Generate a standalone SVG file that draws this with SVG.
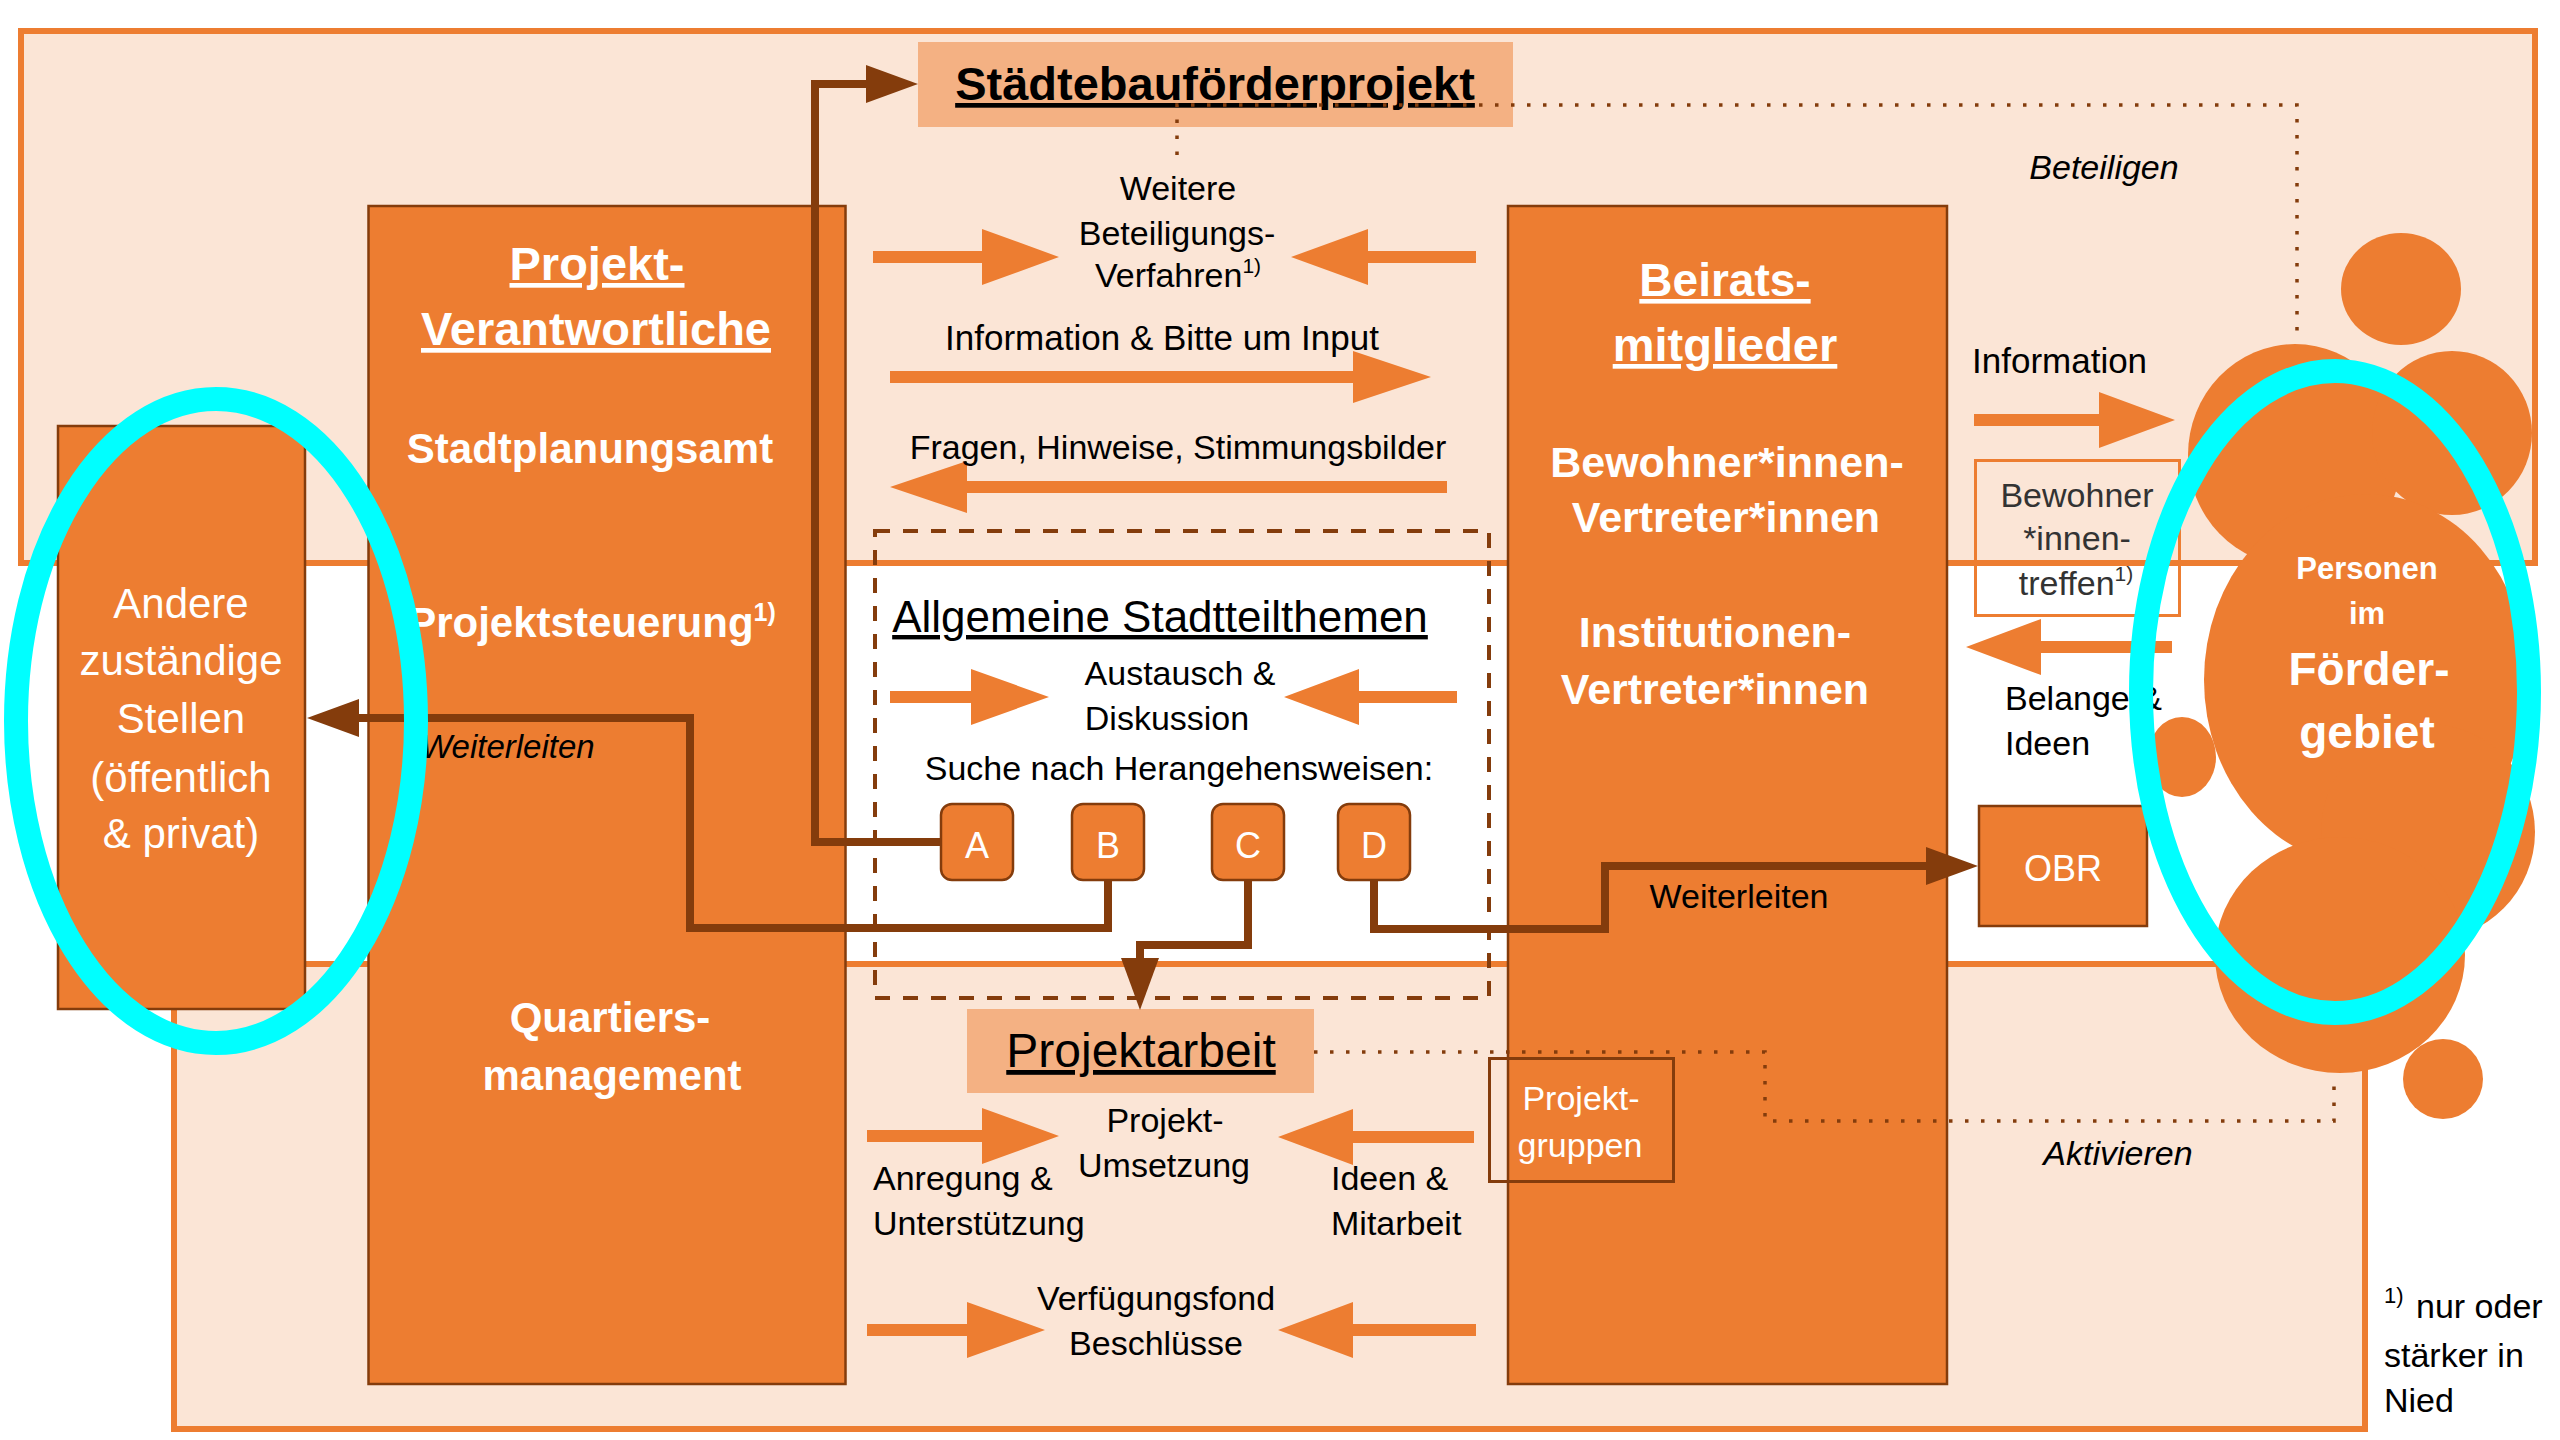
<svg xmlns="http://www.w3.org/2000/svg" width="2560" height="1440" viewBox="0 0 2560 1440">
<defs>
<style>
.frame{fill:#FBE5D6;stroke:#ED7D31;stroke-width:6}
.ob{fill:#ED7D31;stroke:#843C0C;stroke-width:2.5}
.lb{fill:#F4B183}
.arr{fill:#ED7D31}
.con{fill:none;stroke:#843C0C;stroke-width:8;stroke-linejoin:miter}
.dot{fill:none;stroke:#843C0C;stroke-width:3.5;stroke-dasharray:3.5 12.5}
.dash{fill:none;stroke:#843C0C;stroke-width:4;stroke-dasharray:15 13}
.cy{fill:none;stroke:#00FFFF;stroke-width:24}
.p{fill:#ED7D31}
text{font-family:"Liberation Sans",Arial,sans-serif}
.w{fill:#FFFFFF}
.k{fill:#000000}
.g{fill:#333333}
.b{font-weight:bold}
.i{font-style:italic}
.m{text-anchor:middle}
.u{text-decoration:underline}
.s34{font-size:34px}
</style>
<marker id="ah" markerUnits="userSpaceOnUse" markerWidth="52" markerHeight="38" refX="0" refY="19" orient="auto">
<path d="M0,0 L52,19 L0,38 Z" fill="#843C0C"/>
</marker>
</defs>
<rect width="2560" height="1440" fill="#FFFFFF"/>

<g id="frame-top"><rect class="frame" x="21" y="31" width="2514" height="532"/></g>
<g id="frame-bottom"><rect class="frame" x="174" y="964" width="2191" height="465"/></g>

<g id="dashed-area"><rect class="dash" x="875" y="531" width="614" height="467"/></g>

<g id="andere">
<rect class="ob" x="58" y="426" width="247" height="583"/>
<text class="w m" font-size="42" x="181" y="618">Andere</text>
<text class="w m" font-size="42" x="181" y="675">zuständige</text>
<text class="w m" font-size="42" x="181" y="733">Stellen</text>
<text class="w m" font-size="42" x="181" y="792">(öffentlich</text>
<text class="w m" font-size="42" x="181" y="848">&amp; privat)</text>
</g>

<g id="projektverantwortliche">
<rect class="ob" x="368.5" y="206" width="477" height="1178"/>
<text class="w b m u" font-size="47" x="597" y="280">Projekt-</text>
<text class="w b m u" font-size="47" x="596" y="345">Verantwortliche</text>
<text class="w b m" font-size="42" x="590" y="463">Stadtplanungsamt</text>
<text class="w b m" font-size="42" x="592" y="637">Projektsteuerung<tspan font-size="25" dy="-16">1)</tspan></text>
<text class="w b m" font-size="42" x="610" y="1032">Quartiers-</text>
<text class="w b m" font-size="42" x="612" y="1090">management</text>
</g>

<g id="beirat">
<rect class="ob" x="1508" y="206" width="439" height="1178"/>
<text class="w b m u" font-size="46" x="1725" y="296">Beirats-</text>
<text class="w b m u" font-size="47" x="1725" y="361">mitglieder</text>
<text class="w b m" font-size="43" x="1727" y="477">Bewohner*innen-</text>
<text class="w b m" font-size="43" x="1726" y="532">Vertreter*innen</text>
<text class="w b m" font-size="43" x="1715" y="647">Institutionen-</text>
<text class="w b m" font-size="43" x="1715" y="704">Vertreter*innen</text>
<text class="k m s34" x="1739" y="908">Weiterleiten</text>
</g>

<g id="staedtebau">
<rect class="lb" x="918" y="42" width="595" height="85"/>
<text class="k b m u" font-size="47" x="1215" y="100">Städtebauförderprojekt</text>
</g>

<g id="projektarbeit">
<rect class="lb" x="967" y="1009" width="347" height="84"/>
<text class="k m u" font-size="48" x="1141" y="1067">Projektarbeit</text>
</g>

<g id="projektgruppen">
<rect x="1489.5" y="1058.5" width="184" height="123" fill="none" stroke="#843C0C" stroke-width="3"/>
<text class="w m s34" x="1581" y="1110">Projekt-</text>
<text class="w m s34" x="1580" y="1157">gruppen</text>
</g>

<g id="obr">
<rect class="ob" x="1979" y="806" width="168" height="120"/>
<text class="w m" font-size="36" x="2063" y="881">OBR</text>
</g>

<g id="bewohnertreffen">
<rect x="1975.5" y="460.5" width="204" height="155" fill="none" stroke="#ED7D31" stroke-width="3"/>
<text class="g m s34" x="2077" y="507">Bewohner</text>
<text class="g m s34" x="2077" y="550">*innen-</text>
<text class="g m s34" x="2076" y="595">treffen<tspan font-size="21" dy="-14">1)</tspan></text>
</g>

<g id="option-a"><rect class="ob" x="941" y="804" width="72" height="76" rx="11"/><text class="w m" font-size="36" x="977" y="858">A</text></g>
<g id="option-b"><rect class="ob" x="1072" y="804" width="72" height="76" rx="11"/><text class="w m" font-size="36" x="1108" y="858">B</text></g>
<g id="option-c"><rect class="ob" x="1212" y="804" width="72" height="76" rx="11"/><text class="w m" font-size="36" x="1248" y="858">C</text></g>
<g id="option-d"><rect class="ob" x="1338" y="804" width="72" height="76" rx="11"/><text class="w m" font-size="36" x="1374" y="858">D</text></g>

<g id="connectors">
<path class="dot" d="M1177,155 V105 H2297 V335"/>
<path class="dot" d="M1314,1052 H1765 V1121 H2334 V1075"/>
<path class="con" d="M941,842 H815 V84 H866" marker-end="url(#ah)"/>
<path class="con" d="M1108,880 V928 H690 V718 H359" marker-end="url(#ah)"/>
<path class="con" d="M1248,880 V945 H1140 V958" marker-end="url(#ah)"/>
<path class="con" d="M1374,880 V929 H1605 V866 H1926" marker-end="url(#ah)"/>
<path class="arr" d="M873,251 H982 V229 L1059,257 L982,285 V263 H873 Z"/>
<path class="arr" d="M1476,251 H1368 V229 L1291,257 L1368,285 V263 H1476 Z"/>
<path class="arr" d="M890,371 H1353 V351 L1431,377 L1353,403 V383 H890 Z"/>
<path class="arr" d="M1447,481 H967 V461 L890,487 L967,513 V493 H1447 Z"/>
<path class="arr" d="M890,691 H971 V669 L1049,697 L971,725 V703 H890 Z"/>
<path class="arr" d="M1457,691 H1359 V669 L1284,697 L1359,725 V703 H1457 Z"/>
<path class="arr" d="M867,1130 H982 V1108 L1059,1136 L982,1164 V1142 H867 Z"/>
<path class="arr" d="M1474,1131 H1353 V1109 L1278,1137 L1353,1165 V1143 H1474 Z"/>
<path class="arr" d="M867,1324 H967 V1302 L1045,1330 L967,1358 V1336 H867 Z"/>
<path class="arr" d="M1476,1324 H1353 V1302 L1278,1330 L1353,1358 V1336 H1476 Z"/>
<path class="arr" d="M1974,414 H2099 V392 L2175,420 L2099,448 V426 H1974 Z"/>
<path class="arr" d="M2172,641 H2041 V619 L1966,647 L2041,675 V653 H2172 Z"/>
</g>

<g id="labels">
<text class="k m s34" x="1178" y="200">Weitere</text>
<text class="k m s34" x="1177" y="245">Beteiligungs-</text>
<text class="k m s34" x="1178" y="287">Verfahren<tspan font-size="21" dy="-14">1)</tspan></text>
<text class="k m" font-size="35" x="1162" y="350">Information &amp; Bitte um Input</text>
<text class="k m s34" x="1178" y="459">Fragen, Hinweise, Stimmungsbilder</text>
<text class="k m u" font-size="44" x="1160" y="632">Allgemeine Stadtteilthemen</text>
<text class="k m s34" x="1180" y="685">Austausch &amp;</text>
<text class="k m s34" x="1167" y="730">Diskussion</text>
<text class="k m s34" x="1179" y="780">Suche nach Herangehensweisen:</text>
<text class="k i" font-size="33" x="421" y="758">Weiterleiten</text>
<text class="k m s34" x="1165" y="1132">Projekt-</text>
<text class="k m s34" x="1164" y="1177">Umsetzung</text>
<text class="k s34" x="873" y="1190">Anregung &amp;</text>
<text class="k s34" x="873" y="1235">Unterstützung</text>
<text class="k s34" x="1331" y="1190">Ideen &amp;</text>
<text class="k s34" x="1331" y="1235">Mitarbeit</text>
<text class="k m s34" x="1156" y="1310">Verfügungsfond</text>
<text class="k m s34" x="1156" y="1355">Beschlüsse</text>
<text class="k i m s34" x="2104" y="179">Beteiligen</text>
<text class="k" font-size="35" x="1972" y="373">Information</text>
<text class="k s34" x="2005" y="710">Belange &amp;</text>
<text class="k s34" x="2005" y="755">Ideen</text>
<text class="k i m s34" x="2118" y="1165">Aktivieren</text>
<text class="k" font-size="22" x="2384" y="1303">1)</text>
<text class="k s34" x="2416" y="1318">nur oder</text>
<text class="k s34" x="2384" y="1367">stärker in</text>
<text class="k s34" x="2384" y="1412">Nied</text>
</g>

<g id="personen">
<ellipse class="p" cx="2401" cy="289" rx="60" ry="56"/>
<ellipse class="p" cx="2295" cy="455" rx="107" ry="111"/>
<ellipse class="p" cx="2452" cy="433" rx="80" ry="82"/>
<ellipse class="p" cx="2366" cy="680" rx="162" ry="186"/>
<ellipse class="p" cx="2428" cy="832" rx="107" ry="108"/>
<ellipse class="p" cx="2340" cy="955" rx="125" ry="118"/>
<ellipse class="p" cx="2182" cy="757" rx="34" ry="40"/>
<ellipse class="p" cx="2443" cy="1079" rx="40" ry="40"/>
<text class="w b m" font-size="31" x="2367" y="579">Personen</text>
<text class="w b m" font-size="31" x="2367" y="624">im</text>
<text class="w b m" font-size="46" x="2369" y="685">Förder-</text>
<text class="w b m" font-size="46" x="2367" y="748">gebiet</text>
</g>

<g id="highlights">
<ellipse class="cy" cx="216" cy="721" rx="200" ry="322"/>
<ellipse class="cy" cx="2335" cy="692" rx="194" ry="321"/>
</g>
</svg>
